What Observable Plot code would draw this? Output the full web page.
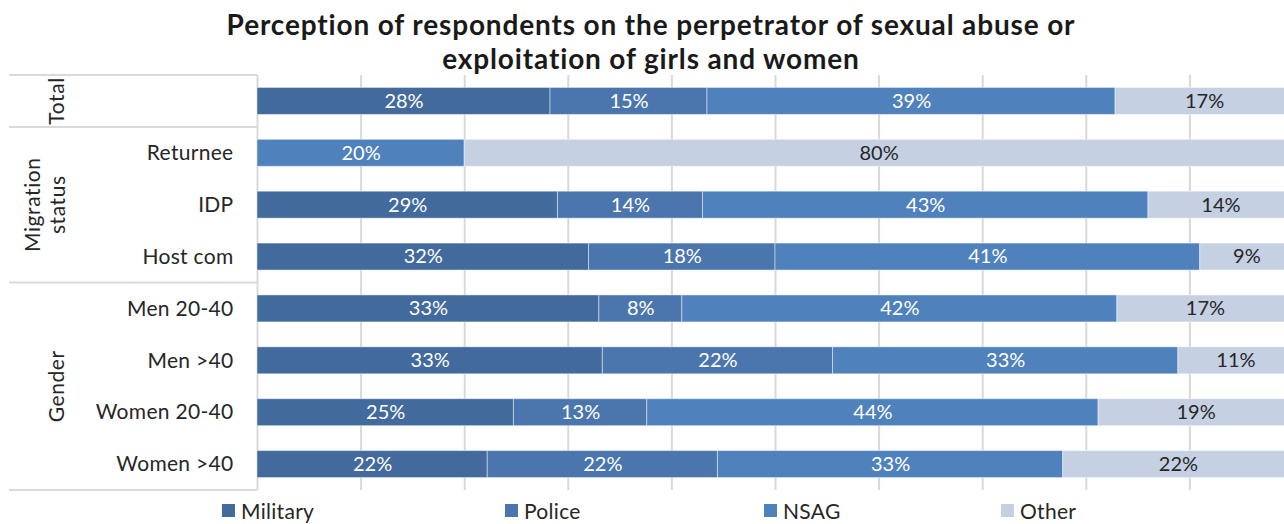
<!DOCTYPE html>
<html><head><meta charset="utf-8">
<script src="https://cdn.jsdelivr.net/npm/d3@7"></script>
<script src="https://cdn.jsdelivr.net/npm/@observablehq/plot@0.6"></script>
<style>
html,body{margin:0;padding:0;background:#fff;overflow:hidden;}
#wrap{position:relative;width:1284px;height:524px;font-family:Lato,sans-serif;overflow:hidden;}
#title{position:absolute;left:18px;top:7px;width:1266px;text-align:center;font-weight:bold;font-size:28px;letter-spacing:0.85px;line-height:34px;color:#1a1a1a;z-index:2;}
#chart{position:absolute;left:0;top:0;}
.li{position:absolute;top:498px;height:25px;line-height:25px;font-size:21px;letter-spacing:0.3px;color:#262626;display:flex;align-items:center;white-space:nowrap;}
.sw{width:13px;height:13px;margin-right:6px;display:inline-block;}
</style></head>
<body><div id="wrap">
<div id="title">Perception of respondents on the perpetrator of sexual abuse or<br>exploitation of girls and women</div>
<div id="chart"></div>
<div id="legend"></div>
</div>
<script>
const categories = ["Total","Returnee","IDP","Host com","Men 20-40","Men >40","Women 20-40","Women >40"];
const groupNames = ["Total","Migration status","Gender"];
const groupOf = ["Total","Migration status","Migration status","Migration status","Gender","Gender","Gender","Gender"];
const perpetrators = ["Military","Police","NSAG","Other"];
const colors = ["#426a9c","#4a76ad","#4f81bd","#c5d0e3"];
const military = [28, 0, 29, 32, 33, 33, 25, 22];
const police   = [15, 0, 14, 18,  8, 22, 13, 22];
const nsag     = [39,20, 43, 41, 42, 33, 44, 33];
const other    = [17,80, 14,  9, 17, 11, 19, 22];
const xTicks = [0,0.1,0.2,0.3,0.4,0.5,0.6,0.7,0.8,0.9,1];

const series = [military, police, nsag, other];
const rows = [];
categories.forEach((c, i) => {
  perpetrators.forEach((p, j) => {
    if (series[j][i] > 0) rows.push({category: c, perpetrator: p, value: series[j][i]});
  });
});

const stackOpts = {x: "value", y: "category", z: "perpetrator", offset: "normalize", order: perpetrators};
const labelStyle = {fontSize: 20, letterSpacing: 0.4};

const plot = Plot.plot({
  width: 1284, height: 495,
  marginTop: 75, marginBottom: 5, marginLeft: 257, marginRight: 0,
  x: {domain: [0, 1], range: [257, 1293], axis: null},
  y: {domain: categories, paddingInner: 0.48, paddingOuter: 0.24, round: false},
  color: {domain: perpetrators, range: colors},
  style: {fontFamily: "Lato, sans-serif", overflow: "hidden", background: "transparent"},
  marks: [
    Plot.ruleX(xTicks, {stroke: "#d9d9d9", strokeWidth: 2}),
    Plot.barX(rows, Plot.stackX({...stackOpts, fill: "perpetrator", stroke: "white", strokeOpacity: 0.45, strokeWidth: 1})),
    Plot.text(rows, Plot.stackX({...stackOpts, ...labelStyle, text: d => d.perpetrator !== "Other" ? d.value + "%" : null, fill: "white"})),
    Plot.text(rows, Plot.stackX({...stackOpts, ...labelStyle, text: d => d.perpetrator === "Other" ? d.value + "%" : null, fill: "#262626"})),
    Plot.axisY({tickSize: 0, tickPadding: 24, fontSize: 21, label: null, color: "#262626", tickFormat: d => d === "Total" ? "" : d})
  ]
});
document.getElementById("chart").appendChild(plot);
d3.select(plot).selectAll("[aria-label='y-axis tick label'] text").attr("letter-spacing", 0.3);

// group separators and rotated group labels, positioned with the plot's y scale
const ys = plot.scale("y");
const step = ys.step, bw = ys.bandwidth;
const yPos = c => ys.apply(c);
const svg = d3.select(plot);
const g = svg.append("g");
const bounds = [];
groupNames.forEach(name => {
  const cats = categories.filter((c, i) => groupOf[i] === name);
  const top = yPos(cats[0]) - (step - bw) / 2;
  const bot = yPos(cats[cats.length - 1]) + bw + (step - bw) / 2;
  bounds.push({name, top, bot});
});
const lineYs = [bounds[0].top, ...bounds.map(b => b.bot)];
g.selectAll("line").data(lineYs).join("line")
  .attr("x1", 9).attr("x2", 257).attr("y1", d => d).attr("y2", d => d)
  .attr("stroke", "#d9d9d9").attr("stroke-width", 2);
bounds.forEach(b => {
  const cy = (b.top + b.bot) / 2;
  const lines = b.name === "Migration status" ? ["Migration", "status"] : [b.name];
  const xs = lines.length === 2 ? [33, 58] : [57];
  lines.forEach((t, k) => {
    g.append("text")
      .attr("transform", `translate(${xs[k]},${cy}) rotate(-90)`)
      .attr("text-anchor", "middle").attr("dy", "0.35em")
      .attr("font-size", 21).attr("letter-spacing", 0.6).attr("fill", "#262626")
      .attr("font-family", "Lato, sans-serif")
      .text(t);
  });
});

// legend
const legendLeft = [222, 505, 764, 1001];
const leg = document.getElementById("legend");
perpetrators.forEach((p, i) => {
  const d = document.createElement("div");
  d.className = "li";
  d.style.left = legendLeft[i] + "px";
  d.innerHTML = `<span class="sw" style="background:${colors[i]}"></span><span>${p}</span>`;
  leg.appendChild(d);
});
</script>
</body></html>
